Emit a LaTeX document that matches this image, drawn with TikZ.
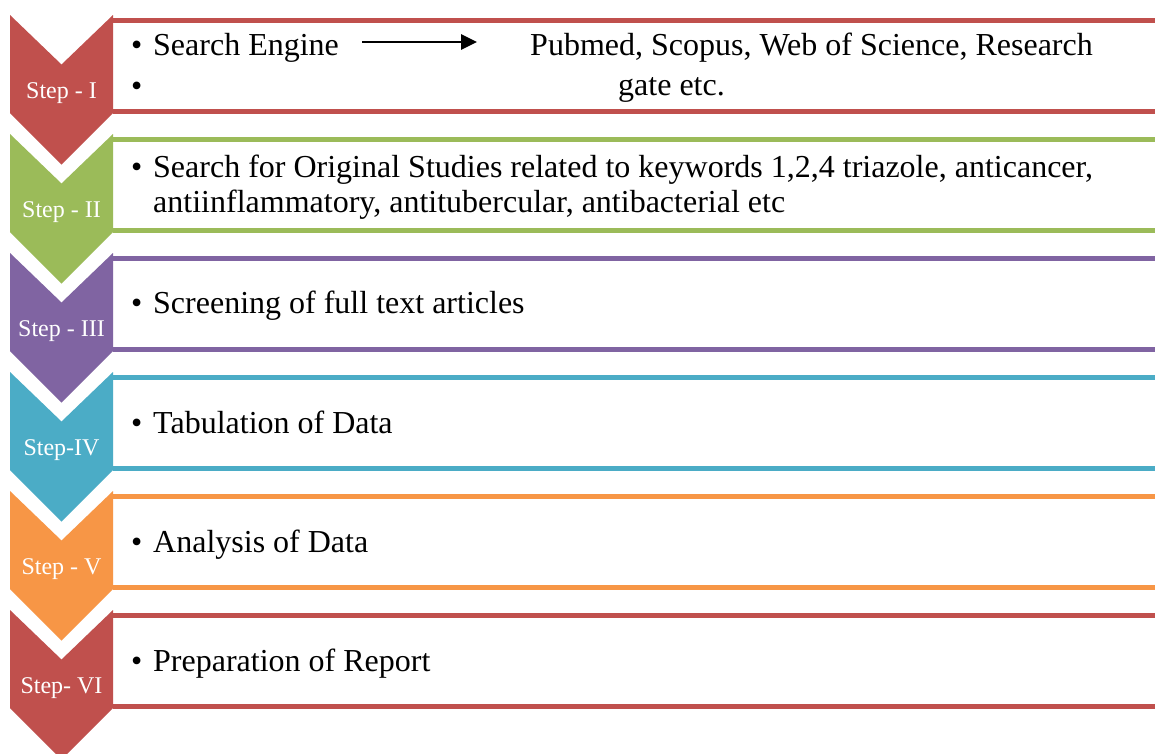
\documentclass[tikz,border=0pt]{standalone}
\usepackage{fontspec}
\setmainfont{Liberation Serif}
\usetikzlibrary{arrows.meta}
\definecolor{cRed}{HTML}{C0504D}
\definecolor{cGreen}{HTML}{9BBB59}
\definecolor{cPurple}{HTML}{8064A2}
\definecolor{cTeal}{HTML}{4BACC6}
\definecolor{cOrange}{HTML}{F79646}
\begin{document}
\begin{tikzpicture}[x=1pt,y=-1pt,
  lbl/.style={text=white,font=\fontsize{24}{26}\selectfont,anchor=base,inner sep=0pt},
  txt/.style={font=\fontsize{32}{35}\selectfont,anchor=base west,inner sep=0pt},
  band/.style={line width=5pt},
  bul/.style={font=\fontsize{32}{35}\selectfont,anchor=base west,inner sep=0pt}]
\useasboundingbox (0,0) rectangle (1155,753);
\fill[white] (0,0) rectangle (1155,753);
\foreach \k/\c/\l in {0/cRed/Step - I,1/cGreen/Step - II,2/cPurple/Step - III,3/cTeal/Step-IV,4/cOrange/Step - V,5/cRed/Step- VI}{
  \pgfmathsetmacro\T{15+119*\k}
  \draw[band,\c] (113,{\T+5}) -- (1155,{\T+5});
  \draw[band,\c] (113,{\T+96}) -- (1155,{\T+96});
  \fill[\c] (10,\T) -- (61.5,{\T+49.5}) -- (113,\T) -- (113,{\T+98}) -- (61.5,{\T+149.5}) -- (10,{\T+98}) -- cycle;
  \node[lbl] (lab\k) at (61.5,{\T+83}) {\l};
}
% Step I
\node[bul] (b1a) at (131,55) {\textbullet};
\node[txt] (t1a) at (153,55) {Search Engine};
\node[bul] (b1b) at (131,96) {\textbullet};
\node[txt] (p1a) at (530,55) {Pubmed, Scopus, Web of Science, Research};
\node[txt] (p1b) at (618,95) {gate etc.};
\coordinate (a1) at (362,42);
\coordinate (a2) at (477,42);
\draw[line width=2.7pt,-{Triangle[length=16pt,width=15pt]}] (a1) -- (a2);
% Step II
\node[bul] (b2) at (131,177) {\textbullet};
\node[txt] (t2a) at (153,177) {Search for Original Studies related to keywords 1,2,4 triazole, anticancer,};
\node[txt] (t2b) at (153,212) {antiinflammatory, antitubercular, antibacterial etc};
% Step III-VI
\node[bul] (b3) at (131,313) {\textbullet};
\node[txt] (t3) at (153,313) {Screening of full text articles};
\node[bul] (b4) at (131,433) {\textbullet};
\node[txt] (t4) at (153,433) {Tabulation of Data};
\node[bul] (b5) at (131,552) {\textbullet};
\node[txt] (t5) at (153,552) {Analysis of Data};
\node[bul] (b6) at (131,671) {\textbullet};
\node[txt] (t6) at (153,671) {Preparation of Report};
\end{tikzpicture}
\end{document}
